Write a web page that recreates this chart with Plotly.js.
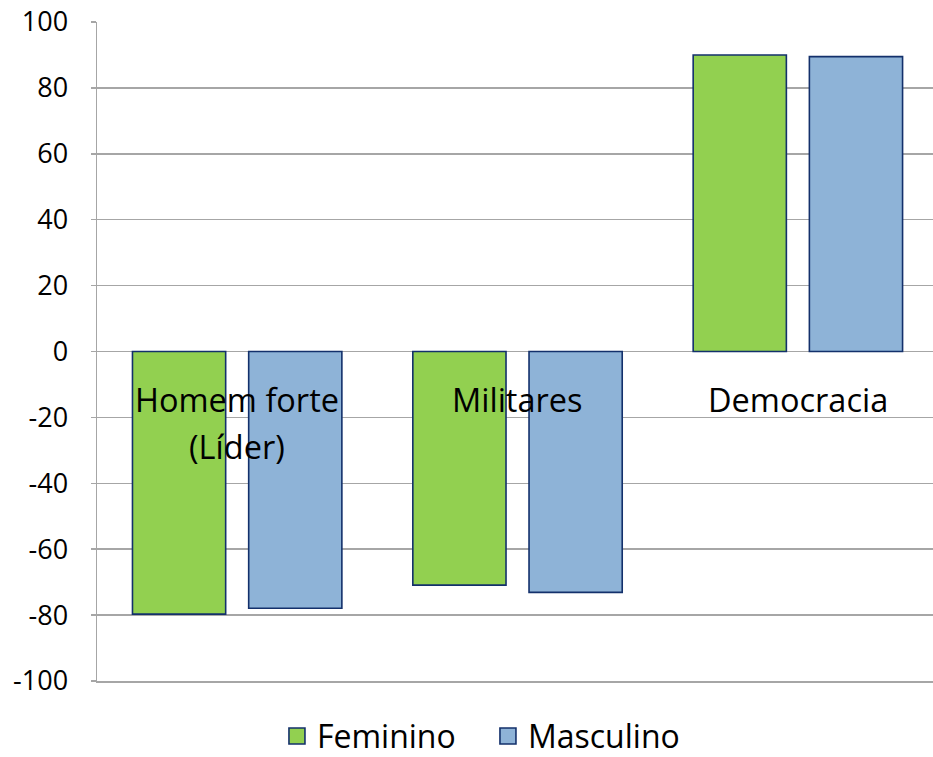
<!DOCTYPE html>
<html>
<head>
<meta charset="utf-8">
<script src="https://cdn.plot.ly/plotly-3.0.1.min.js"></script>
<style>html,body{margin:0;padding:0;background:#fff;}#chart{width:933px;height:757px;}</style>
</head>
<body>
<div id="chart"></div>
<script>
const categories = ["Homem forte<br>(Líder)", "Militares", "Democracia"];
const seriesNames = ["Feminino", "Masculino"];
const feminino = [-79.7, -70.9, 90.0];
const masculino = [-77.9, -73.1, 89.5];
const yTicks = [-100, -80, -60, -40, -20, 0, 20, 40, 60, 80, 100];

const FONT = "Open Sans, sans-serif";
const lineColor = "#13306B";
const gridColor = "#A6A6A6";
const colors = ["#92D050", "#8EB3D7"];
const xPos = categories.map((c, i) => i);

const traces = [
  {type: "bar", name: seriesNames[0], x: xPos, y: feminino, showlegend: false,
   marker: {color: colors[0], line: {color: lineColor, width: 1.6}}},
  {type: "bar", name: seriesNames[1], x: xPos, y: masculino, showlegend: false,
   marker: {color: colors[1], line: {color: lineColor, width: 1.6}}}
];
seriesNames.forEach((n, i) => {
  traces.push({type: "scatter", mode: "markers", name: n, x: [null], y: [null],
    marker: {symbol: "square", size: 20, color: colors[i], line: {color: lineColor, width: 1.6}}});
});

const annotations = [];
categories.forEach((c, i) => {
  c.split("<br>").forEach((line, j) => {
    annotations.push({x: i, y: 0, xref: "x", yref: "y", text: line, showarrow: false,
      xanchor: "center", yanchor: "middle", yshift: -48 - j * 47,
      font: {family: FONT, size: 32.5, color: "#000"}});
  });
});

const layout = {
  width: 933, height: 757,
  margin: {l: 97, r: 0, t: 22, b: 76, pad: 0},
  paper_bgcolor: "#fff", plot_bgcolor: "#fff",
  barmode: "group", bargap: 0.171, bargroupgap: 0.198,
  showlegend: true,
  legend: {orientation: "h", xref: "container", yref: "container",
    x: 0.523, xanchor: "center", y: 0.0275, yanchor: "middle",
    font: {family: FONT, size: 32, color: "#000"}, itemwidth: 30, entrywidth: 166,
    traceorder: "normal"},
  xaxis: {range: [-0.5, 2.482], showticklabels: false, ticks: "", showgrid: false,
    zeroline: false, showline: true, linecolor: gridColor, linewidth: 1.5, fixedrange: true},
  yaxis: {range: [-100, 100], tickvals: yTicks, ticktext: yTicks.map(String),
    showgrid: true, gridcolor: gridColor, gridwidth: 1.5,
    zeroline: true, zerolinecolor: gridColor, zerolinewidth: 1.5,
    showline: true, linecolor: gridColor, linewidth: 1.5,
    ticks: "outside", ticklen: 5, tickcolor: gridColor, tickwidth: 1.5,
    ticklabelstandoff: 17,
    tickfont: {family: FONT, size: 27, color: "#000"}},
  annotations: annotations
};

Plotly.newPlot("chart", traces, layout, {displayModeBar: false, staticPlot: true});
</script>
</body>
</html>
